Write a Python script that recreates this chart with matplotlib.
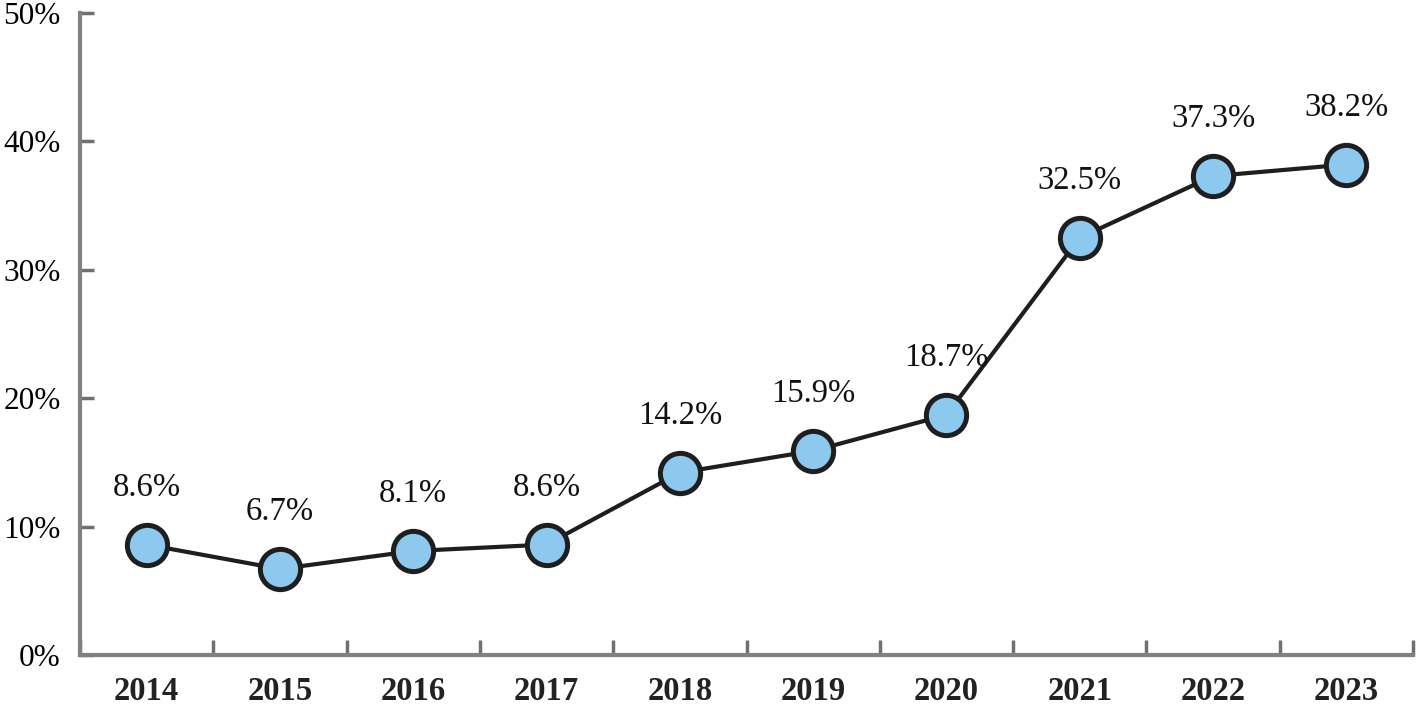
import numpy as np
import matplotlib.pyplot as plt
from matplotlib.ticker import FixedLocator, PercentFormatter

years = ['2014', '2015', '2016', '2017', '2018', '2019', '2020', '2021', '2022', '2023']
values = [8.6, 6.7, 8.1, 8.6, 14.2, 15.9, 18.7, 32.5, 37.3, 38.2]
labels = ['8.6%', '6.7%', '8.1%', '8.6%', '14.2%', '15.9%', '18.7%', '32.5%', '37.3%', '38.2%']

plt.rcParams['font.family'] = ['Liberation Serif', 'DejaVu Serif']

fig = plt.figure(figsize=(14.18, 7.11), dpi=100)
ax = fig.add_axes([80 / 1418, 56 / 711, (1413 - 80) / 1418, (655 - 13) / 711])

x = np.arange(len(years))
ax.plot(x, values, color='#1e1e1e', lw=3, marker='o', ms=29,
        mfc='#8dc8ee', mec='#1e1e1e', mew=3.6, zorder=3)

for xi, v, t in zip(x, values, labels):
    ax.annotate(t, (xi, v), xytext=(0, 41), textcoords='offset points',
                ha='center', va='center', fontsize=23.5, color='#111111')

ax.set_xlim(-0.5, len(years) - 0.5)
ax.set_ylim(0, 50)

# x ticks at the boundaries, labels at the centres
ax.xaxis.set_major_locator(FixedLocator(np.arange(len(years) + 1) - 0.5))
ax.xaxis.set_minor_locator(FixedLocator(x))
ax.set_xticklabels([], minor=False)
ax.set_xticklabels(years, minor=True, fontsize=23.5, fontweight='bold', color='#222222')
ax.tick_params(axis='x', which='major', direction='in', length=11, width=2.5, color='#707070')
ax.tick_params(axis='x', which='minor', length=0, pad=15)

ax.set_yticks(np.arange(0, 51, 10))
ax.yaxis.set_major_formatter(PercentFormatter(decimals=0))
ax.tick_params(axis='y', direction='in', length=10, width=2.5, color='#707070',
               labelsize=22.5, pad=14)

for s in ['top', 'right']:
    ax.spines[s].set_visible(False)
for s in ['left', 'bottom']:
    ax.spines[s].set_color('#808080')
    ax.spines[s].set_linewidth(3)

fig.savefig('out.png', dpi=100)
